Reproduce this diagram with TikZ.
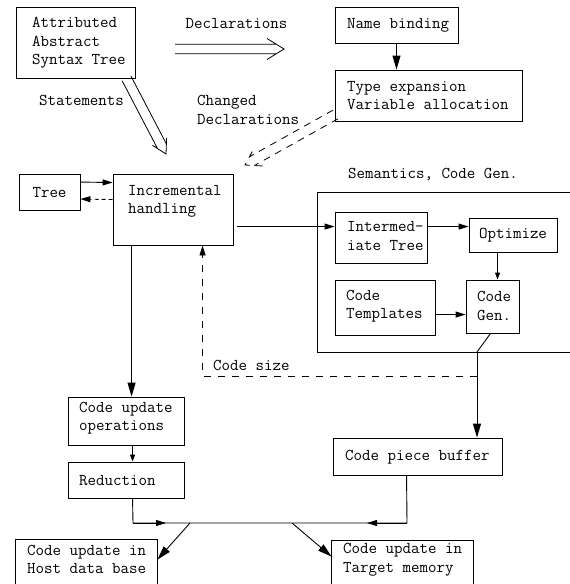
\documentclass[tikz,border=0pt]{standalone}
\usetikzlibrary{arrows.meta,calc}
\newcommand\hollowarr[6]{%
  \path (#2) coordinate (ha-t) (#3) coordinate (ha-h);
  \path ($(ha-h)!#6!(ha-t)$) coordinate (ha-b);
  \path ($(ha-b)!#5!90:(ha-h)$) coordinate (ha-b1) ($(ha-b)!#5!-90:(ha-h)$) coordinate (ha-b2);
  \path ($(ha-t)!#4!90:(ha-h)$) coordinate (ha-t1) ($(ha-t)!#4!-90:(ha-h)$) coordinate (ha-t2);
  \pgfmathsetmacro\hafrac{(#5-#4)/#5}%
  \path ($(ha-b1)!\hafrac!(ha-h)$) coordinate (ha-m1) ($(ha-b2)!\hafrac!(ha-h)$) coordinate (ha-m2);
  \draw[#1] (ha-t1) -- (ha-m1) (ha-b1) -- (ha-h) -- (ha-b2) (ha-t2) -- (ha-m2);
}
\begin{document}
\begin{tikzpicture}[x=1pt,y=-1pt,
  every node/.style={font=\ttfamily\fontsize{16.5}{18.5}\selectfont},
  box/.style={draw, line width=0.9pt, inner sep=0pt},
  txt/.style={inner sep=0pt, align=left},
  ln/.style={line width=0.9pt},
  arrL/.style={ln, -{Triangle[length=14pt,width=8pt]}},
  arrM/.style={ln, -{Triangle[length=10pt,width=6pt]}},
  arrS/.style={ln, -{Triangle[length=7pt,width=5pt]}},
  dsh/.style={dash pattern=on 7pt off 6pt}]
\useasboundingbox (0,0) rectangle (570,584);
\fill[white] (0,0) rectangle (570,584);
\clip (0,0) rectangle (570,584);

% boxes
\node[box, minimum width=119, minimum height=71] (aast) at (75.5,42.5) {};
\node[txt, anchor=west] (aast-t) at (32,43) {Attributed\\Abstract\\Syntax Tree};
\node[box, minimum width=123, minimum height=36] (nb) at (396.5,25) {};
\node[txt, anchor=west] (nb-t) at (347,25) {Name binding};
\node[box, minimum width=187, minimum height=51] (te) at (428.5,95.5) {};
\node[txt, anchor=west] (te-t) at (347,95.5) {Type expansion\\Variable allocation};
\node[box, minimum width=61, minimum height=36] (tree) at (49.5,192.5) {Tree};
\node[box, minimum width=120, minimum height=71] (inc) at (173,209.5) {};
\node[txt, anchor=west] (inc-t) at (128,201.5) {Incremental\\handling};
\node[txt] (sem-t) at (433,175) {Semantics, Code Gen.};
\node[box, minimum width=92, minimum height=51] (it) at (381,237.5) {};
\node[txt, anchor=west] (it-t) at (347,236) {Intermed-\\iate Tree};
\node[box, minimum width=88, minimum height=34] (opt) at (513,235) {Optimize};
\node[box, minimum width=100, minimum height=55] (ct) at (385,307.5) {};
\node[txt, anchor=west] (ct-t) at (346,306) {Code\\Templates};
\node[box, minimum width=53, minimum height=53] (cg) at (492.5,306.5) {};
\node[txt, anchor=west] (cg-t) at (477,306) {Code\\Gen.};
\node[box, minimum width=116, minimum height=48] (cuo) at (126,421) {};
\node[txt, anchor=west] (cuo-t) at (79,418) {Code update\\operations};
\node[box, minimum width=116, minimum height=36] (red) at (126,480) {};
\node[txt, anchor=west] (red-t) at (79,481) {Reduction};
\node[box, minimum width=169, minimum height=37] (cpb) at (417.5,456.5) {};
\node[txt, anchor=west] (cpb-t) at (345,457) {Code piece buffer};
\node[box, draw=none, minimum width=141, minimum height=40] (host) at (86.5,560) {};
\draw[line width=0.9pt] ([yshift=-10pt]host.south west) |- (host.north east) -- ([yshift=-10pt]host.south east);
\node[txt, anchor=west] (host-t) at (27,559.5) {Code update in\\Host data base};
\node[box, draw=none, minimum width=141, minimum height=40] (target) at (402.5,561) {};
\draw[line width=0.9pt] ([yshift=-10pt]target.south west) |- (target.north east) -- ([yshift=-10pt]target.south east);
\node[txt, anchor=west] (target-t) at (343,559.5) {Code update in\\Target memory};

% semantics enclosure (open to the right)
\draw[line width=0.9pt] (572,192) -| (317,352) -- (572,352);

% labels
\node[txt] (decl-t) at (236.5,24) {Declarations};
\node[txt] (stat-t) at (81.5,100) {Statements};
\node[txt, anchor=west] (chg-t) at (197,110) {Changed\\Declarations};
\node[txt, anchor=west] (size-t) at (213,365) {Code size};

% hollow double arrows
\coordinate (decl-a) at (175,49);
\coordinate (decl-b) at (284,49);
\hollowarr{line width=0.8pt}{decl-a}{decl-b}{4.8pt}{10.5pt}{17pt}
\coordinate (stat-a) at ($(aast.south west)+(111,0)$);
\coordinate (stat-b) at (166,154);
\hollowarr{line width=0.8pt}{stat-a}{stat-b}{5pt}{8pt}{14pt}
\coordinate (chg-a) at ($(te.south west)+(1,-7)$);
\coordinate (chg-b) at (245,165);
\hollowarr{line width=0.8pt, dash pattern=on 7pt off 6pt}{chg-a}{chg-b}{5pt}{9.5pt}{15pt}

% connectors
\draw[arrL] (nb.south) -- (nb.south |- te.north);
\draw[arrM] ($(tree.north east)+(0,8)$) -- ($(inc.north west)+(0,9)$);
\draw[arrM, dash pattern=on 4pt off 3pt] ($(inc.north west)+(0,26)$) -- ($(tree.north east)+(0,25)$);
\draw[arrM] ($(inc.north east)+(4,53)$) -- ($(it.north west)+(0,15)$);
\draw[arrM] ($(it.north east)+(0,15)$) -- ($(opt.north west)+(0,9)$);
\draw[arrS] ($(opt.south west)+(29,0)$) -- ($(cg.north west)+(32,0)$);
\draw[arrM] ($(ct.north east)+(0,35)$) -- ($(cg.north west)+(0,35)$);
\coordinate (semout) at (477,352);
\draw[ln] ($(cg.south)+(-2,0)$) -- (semout);
\draw[arrL] (semout) -- (semout |- cpb.north);
\coordinate (sizec) at (477,376);
\draw[arrM, dash pattern=on 7pt off 7pt] (sizec) -| ($(inc.south west)+(90,0)$);
\draw[arrL] ($(inc.south west)+(19,0)$) -- ($(cuo.north west)+(64,0)$);
\draw[arrS] ($(cuo.south west)+(65,0)$) -- ($(red.north west)+(65,0)$);
\coordinate (joinL) at (133,523);
\coordinate (joinR) at (407,523);
\draw[ln] ($(red.south west)+(65,0)$) -- (joinL) -- (joinR) -- ($(cpb.south west)+(74,0)$);
\draw[arrM] (joinL) -- (166,523);
\draw[arrM] (joinR) -- (367,523);
\coordinate (hostsplit) at (190,523);
\coordinate (targsplit) at (292,523);
\draw[arrL] (hostsplit) -- ($(host.north east)+(0,20)$);
\draw[arrL] (targsplit) -- ($(target.north west)+(0,16)$);
\end{tikzpicture}
\end{document}
